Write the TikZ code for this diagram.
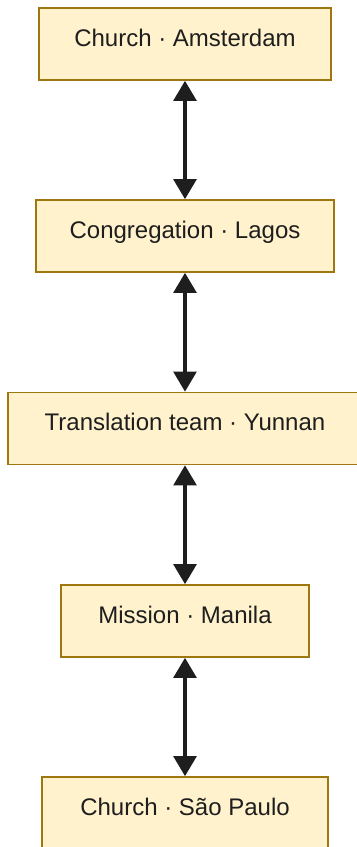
\documentclass[tikz,border=0pt]{standalone}
\usepackage{fontspec}
\setmainfont{Liberation Sans}
\usetikzlibrary{arrows.meta}

\definecolor{boxfill}{RGB}{255,242,204}
\definecolor{boxline}{RGB}{158,120,14}
\definecolor{inkgray}{RGB}{30,30,30}

\begin{document}
\begin{tikzpicture}[x=0.75pt,y=-0.75pt]
  \useasboundingbox (0,0) rectangle (357,847);

  % Define styles for the places and the links
  \tikzset{
    place/.style={draw=boxline, fill=boxfill, line width=1.2pt, text=inkgray,
      font=\fontsize{18pt}{21pt}\selectfont, text height=13pt, text depth=9.4pt,
      minimum height=54pt, inner sep=0pt},
    link/.style={inkgray, line width=2.6pt,
      {Triangle[length=15pt,width=17pt]}-{Triangle[length=15pt,width=17pt]}}
  }

  % Places, top to bottom
  \node[place, minimum width=219pt] (amsterdam) at (185,44)    {Church · Amsterdam};
  \node[place, minimum width=223.5pt] (lagos)   at (185,236)   {Congregation · Lagos};
  \node[place, minimum width=265.5pt] (yunnan)  at (185,428.5) {Translation team · Yunnan};
  \node[place, minimum width=186pt] (manila)    at (185,621)   {Mission · Manila};
  \node[place, minimum width=214.5pt] (saopaulo) at (185,813)  {Church · São Paulo};

  % Links between neighbours
  \draw[link] (amsterdam) -- (lagos);
  \draw[link] (lagos) -- (yunnan);
  \draw[link] (yunnan) -- (manila);
  \draw[link] (manila) -- (saopaulo);

\end{tikzpicture}
\end{document}
